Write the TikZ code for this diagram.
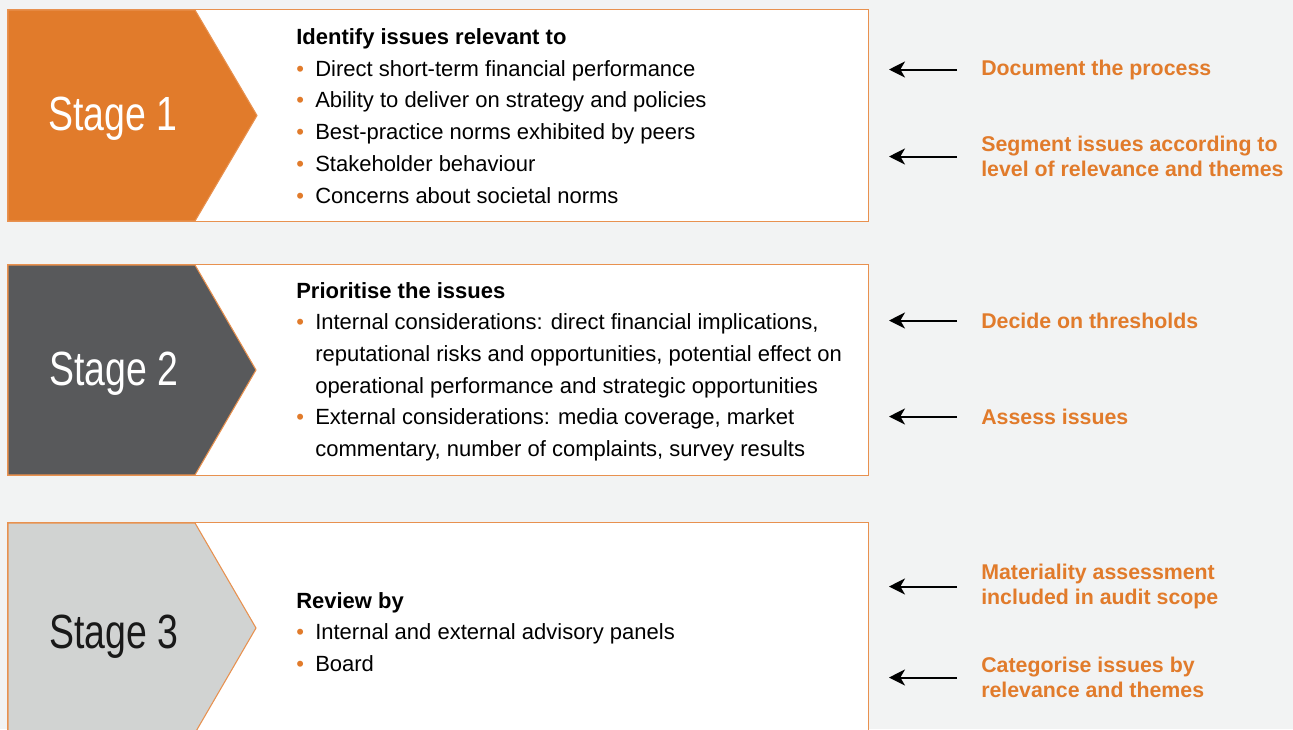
\documentclass[tikz,border=0pt]{standalone}
\usepackage{fontspec}
\setmainfont{Liberation Sans}
\newfontfamily\stagefont[FakeStretch=0.78]{Liberation Sans}
\usetikzlibrary{positioning,arrows.meta}
\definecolor{kporange}{HTML}{E17B2B}
\definecolor{kpline}{HTML}{E8914F}
\definecolor{kpdark}{HTML}{58595B}
\definecolor{kplight}{HTML}{D1D3D2}
\definecolor{paper}{HTML}{F2F3F3}
\newcommand{\dotmark}{\makebox[14.25pt][l]{\textcolor{kporange}{\textbullet}}}
\tikzset{
  stagebox/.style={fill=white, inner sep=0pt, minimum width=645pt},
  boxrule/.style={draw=kpline, line width=0.8pt},
  stagelabel/.style={font=\stagefont\fontsize{36}{40}\selectfont, inner sep=0pt},
  listblock/.style={anchor=west, inner sep=0pt, font=\fontsize{16.5}{23.8}\selectfont},
  note/.style={anchor=west, inner sep=0pt, align=left, text=kporange,
    font=\bfseries\fontsize{16}{18.75}\selectfont},
  pointer/.style={-{Stealth[length=12pt,width=12pt,inset=3.5pt]}, line width=1.5pt,
    shorten <=18pt}
}
\begin{document}
\begin{tikzpicture}[x=0.75pt,y=-0.75pt]
\fill[paper] (0,0) rectangle (1293,729);
\useasboundingbox (0,0) rectangle (1293,729);
\begin{scope}
\clip (0,0) rectangle (1293,729);
% stage 1
\node (box1) [stagebox, minimum height=158.25pt] at (438,115.5) {};
\filldraw[kporange, draw=kpline, line width=0.8pt] (8,10) -- (195,10) -- (257,115.5) -- (195,221) -- (8,221) -- cycle;
\draw [boxrule] (box1.north west) rectangle (box1.south east);
\node (stage1) [stagelabel, text=white] at (113,119) {Stage 1};
\node (list1) [listblock] at (296,117.5) {
\begin{tabular}{@{}l@{}l@{}}
\multicolumn{2}{@{}l@{}}{\bfseries Identify issues relevant to} \\
\dotmark & Direct short-term financial performance \\
\dotmark & Ability to deliver on strategy and policies \\
\dotmark & Best-practice norms exhibited by peers \\
\dotmark & Stakeholder behaviour \\
\dotmark & Concerns about societal norms \\
\end{tabular}
};
% stage 2
\node (box2) [stagebox, minimum height=157.5pt] at (438,370) {};
\filldraw[kpdark, draw=kpline, line width=0.8pt] (8,265) -- (195,265) -- (256,370) -- (195,475) -- (8,475) -- cycle;
\draw [boxrule] (box2.north west) rectangle (box2.south east);
\node (stage2) [stagelabel, text=white] at (114,373.5) {Stage 2};
\node (list2) [listblock] at (296,371) {
\begin{tabular}{@{}l@{}l@{}}
\multicolumn{2}{@{}l@{}}{\bfseries Prioritise the issues} \\
\dotmark & Internal considerations: direct financial implications, \\
 & reputational risks and opportunities, potential effect on \\
 & operational performance and strategic opportunities \\
\dotmark & External considerations: media coverage, market \\
 & commentary, number of complaints, survey results \\
\end{tabular}
};
% stage 3
\node (box3) [stagebox, minimum height=165pt] at (438,633) {};
\filldraw[kplight, draw=kpline, line width=0.8pt] (8,523) -- (195,523) -- (256,628) -- (195,733) -- (8,733) -- cycle;
\draw [boxrule] (box3.north west) rectangle (box3.south east);
\node (stage3) [stagelabel, text=black!90] at (114,636.5) {Stage 3};
\node (list3) [listblock] at (296,633.5) {
\begin{tabular}{@{}l@{}l@{}}
\multicolumn{2}{@{}l@{}}{\bfseries Review by} \\
\dotmark & Internal and external advisory panels \\
\dotmark & Board \\
\end{tabular}
};
\end{scope}
% notes on the right
\coordinate (edge) at (889,0);
\node (doc) [note] at (981,69.5) {Document the process};
\node (segment) [note] at (981,156.5) {Segment issues according to\\level of relevance and themes};
\node (decide) [note] at (981,320.5) {Decide on thresholds};
\node (assess) [note] at (981,416.5) {Assess issues};
\node (audit) [note] at (981,586.5) {Materiality assessment\\included in audit scope};
\node (categorise) [note] at (981,677.5) {Categorise issues by\\relevance and themes};
\foreach \n in {doc,segment,decide,assess,audit,categorise}
  \draw [pointer] (\n.west) -- (\n.west -| edge);
\end{tikzpicture}
\end{document}
